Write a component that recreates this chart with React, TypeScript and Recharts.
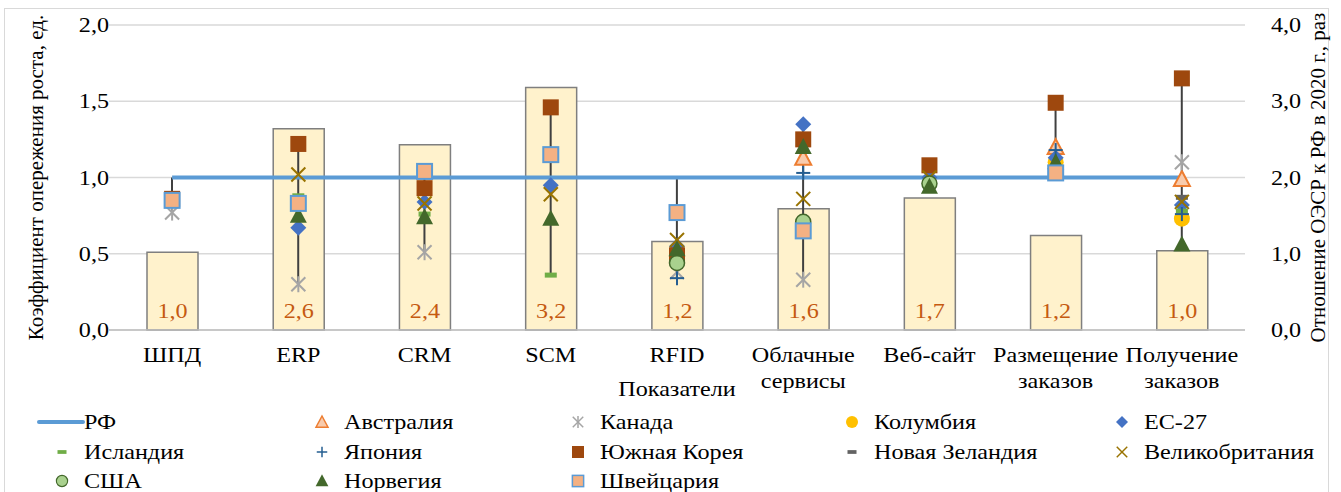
import React from "react";
import {
  Bar,
  CartesianGrid,
  ComposedChart,
  Label,
  LabelList,
  Line,
  XAxis,
  YAxis,
} from "recharts";

const categories = [
  "ШПД",
  "ERP",
  "CRM",
  "SCM",
  "RFID",
  "Облачные сервисы",
  "Веб-сайт",
  "Размещение заказов",
  "Получение заказов",
];

// отношение ОЭСР к РФ (правая ось)
const oecdToRf = [1.02, 2.64, 2.43, 3.18, 1.16, 1.59, 1.73, 1.24, 1.04];

// коэффициенты опережения (левая ось)
const rf = [1, 1, 1, 1, 1, 1, 1, 1, 1];
const australia = [null, null, null, null, null, 1.13, null, 1.2, 0.99];
const canada = [0.77, 0.3, 0.51, null, 0.38, 0.33, null, null, 1.1];
const colombia = [null, null, null, null, null, null, null, 1.1, 0.73];
const eu27 = [null, 0.67, 0.84, 0.95, 0.55, 1.35, 1.0, 1.13, 0.82];
const iceland = [null, 0.88, 0.76, 0.36, null, null, null, null, 0.78];
const japan = [null, null, null, null, 0.34, 1.03, null, 1.18, 0.76];
const southKorea = [0.86, 1.22, 0.93, 1.46, 0.49, 1.25, 1.08, 1.49, 1.65];
const newZealand = [null, null, null, null, null, null, null, null, 0.87];
const uk = [null, 1.02, 0.83, 0.89, 0.59, 0.86, 1.0, null, 0.84];
const usa = [null, null, null, null, 0.44, 0.71, 0.96, null, null];
const norway = [null, 0.75, 0.74, 0.73, 0.53, 1.2, 0.94, 1.1, 0.56];
const switzerland = [0.85, 0.83, 1.04, 1.15, 0.77, 0.65, null, 1.03, null];

type Shape =
  | "triOutline"
  | "star"
  | "dot"
  | "diamond"
  | "dash"
  | "plus"
  | "square"
  | "cross"
  | "circle"
  | "triangle"
  | "squareOutline";

const series: {
  key: string;
  name: string;
  values: (number | null)[];
  shape: Shape;
  color: string;
}[] = [
  { key: "au", name: "Австралия", values: australia, shape: "triOutline", color: "#ed7d31" },
  { key: "ca", name: "Канада", values: canada, shape: "star", color: "#a5a5a5" },
  { key: "co", name: "Колумбия", values: colombia, shape: "dot", color: "#ffc000" },
  { key: "eu", name: "ЕС-27", values: eu27, shape: "diamond", color: "#4472c4" },
  { key: "is", name: "Исландия", values: iceland, shape: "dash", color: "#70ad47" },
  { key: "jp", name: "Япония", values: japan, shape: "plus", color: "#255e91" },
  { key: "kr", name: "Южная Корея", values: southKorea, shape: "square", color: "#9e480e" },
  { key: "nz", name: "Новая Зеландия", values: newZealand, shape: "dash", color: "#636363" },
  { key: "uk", name: "Великобритания", values: uk, shape: "cross", color: "#997300" },
  { key: "us", name: "США", values: usa, shape: "circle", color: "#43682b" },
  { key: "no", name: "Норвегия", values: norway, shape: "triangle", color: "#43682b" },
  { key: "ch", name: "Швейцария", values: switzerland, shape: "squareOutline", color: "#5b9bd5" },
];

const chartData = categories.map((name, i) => {
  const row: Record<string, any> = { name, ratio: oecdToRf[i], rf: rf[i] };
  const vals: number[] = [rf[i]];
  series.forEach((s) => {
    row[s.key] = s.values[i];
    if (s.values[i] != null) vals.push(s.values[i] as number);
  });
  row.hl = [Math.min(...vals), Math.max(...vals)];
  return row;
});

const FONT = "'Liberation Serif', 'Times New Roman', serif";
const FS = 21;
const SX = 1.15; // текст в исходнике немного растянут по горизонтали
const fmt = (v: number) => v.toFixed(1).replace(".", ",");

// горизонтально растянутый текст вокруг точки привязки
function WideText({
  x,
  y,
  anchor,
  fill = "#000",
  children,
}: {
  x: number;
  y: number;
  anchor: "start" | "middle" | "end";
  fill?: string;
  children: React.ReactNode;
}) {
  return (
    <g transform={`translate(${x} ${y}) scale(${SX} 1)`}>
      <text x={0} y={0} textAnchor={anchor} fontSize={FS} fontFamily={FONT} fill={fill}>
        {children}
      </text>
    </g>
  );
}

function Marker({ shape, color, cx, cy }: { shape: Shape; color: string; cx: number; cy: number }) {
  switch (shape) {
    case "square":
      return <rect x={cx - 8} y={cy - 8} width={16} height={16} fill={color} />;
    case "squareOutline":
      return (
        <rect x={cx - 7.5} y={cy - 7.5} width={15} height={15} fill="#f4b183" stroke={color} strokeWidth={2} />
      );
    case "triOutline":
      return (
        <polygon
          points={`${cx},${cy - 8} ${cx + 8},${cy + 7} ${cx - 8},${cy + 7}`}
          fill="#f8cbad"
          stroke={color}
          strokeWidth={2}
        />
      );
    case "triangle":
      return <polygon points={`${cx},${cy - 9} ${cx + 8.5},${cy + 7} ${cx - 8.5},${cy + 7}`} fill={color} />;
    case "diamond":
      return <polygon points={`${cx},${cy - 8} ${cx + 8},${cy} ${cx},${cy + 8} ${cx - 8},${cy}`} fill={color} />;
    case "dot":
      return <circle cx={cx} cy={cy} r={8} fill={color} />;
    case "circle":
      return <circle cx={cx} cy={cy} r={7.5} fill="#a9d18e" stroke={color} strokeWidth={1.5} />;
    case "dash":
      return <rect x={cx - 6} y={cy - 2.5} width={12} height={5} fill={color} />;
    case "plus":
      return (
        <g stroke={color} strokeWidth={2}>
          <line x1={cx - 7} y1={cy} x2={cx + 7} y2={cy} />
          <line x1={cx} y1={cy - 7} x2={cx} y2={cy + 7} />
        </g>
      );
    case "cross":
      return (
        <g stroke={color} strokeWidth={2}>
          <line x1={cx - 7} y1={cy - 7} x2={cx + 7} y2={cy + 7} />
          <line x1={cx - 7} y1={cy + 7} x2={cx + 7} y2={cy - 7} />
        </g>
      );
    case "star":
      return (
        <g stroke={color} strokeWidth={2}>
          <line x1={cx - 7} y1={cy - 7} x2={cx + 7} y2={cy + 7} />
          <line x1={cx - 7} y1={cy + 7} x2={cx + 7} y2={cy - 7} />
          <line x1={cx} y1={cy - 8} x2={cx} y2={cy + 8} />
        </g>
      );
  }
  return null;
}

function CategoryTick(props: any) {
  const { x, y, payload } = props;
  const value: string = payload.value;
  const lines = value.includes(" ") ? value.split(" ") : [value];
  return (
    <g>
      {lines.map((l, i) => (
        <WideText key={i} x={x} y={y + 24 + i * 26} anchor="middle">
          {l}
        </WideText>
      ))}
    </g>
  );
}

function LeftTick(props: any) {
  const { x, y, payload } = props;
  return (
    <WideText x={x + 8} y={y + 7} anchor="end">
      {fmt(payload.value)}
    </WideText>
  );
}

function RightTick(props: any) {
  const { x, y, payload } = props;
  return (
    <WideText x={x + 18} y={y + 7} anchor="start">
      {fmt(payload.value)}
    </WideText>
  );
}

function BarValue(props: any) {
  const { x, y, width, height, value } = props;
  return (
    <WideText x={x + width / 2} y={y + height - 12} anchor="middle" fill="#c55a11">
      {fmt(Number(value))}
    </WideText>
  );
}

const legendRows = [
  ["rf", "au", "ca", "co", "eu"],
  ["is", "jp", "kr", "nz", "uk"],
  ["us", "no", "ch"],
];
const legendCols = [62, 322, 578, 852, 1122];
const legendTop = [422, 452, 481];

function LegendBlock() {
  return (
    <>
      {legendRows.map((row, r) =>
        row.map((k, c) => {
          const s = series.find((x) => x.key === k);
          const name = s ? s.name : "РФ";
          const cx = legendCols[c];
          const cy = legendTop[r];
          return (
            <div key={k}>
              <svg
                width={50}
                height={20}
                style={{ position: "absolute", left: cx - 25, top: cy - 10 }}
              >
                {s ? (
                  <g transform="translate(25,10) scale(0.75) translate(-25,-10)">
                    <Marker shape={s.shape} color={s.color} cx={25} cy={10} />
                  </g>
                ) : (
                  <line x1={2} y1={10} x2={46} y2={10} stroke="#5b9bd5" strokeWidth={4} strokeLinecap="round" />
                )}
              </svg>
              <span
                style={{
                  position: "absolute",
                  left: cx + 22,
                  top: cy - 13,
                  fontFamily: FONT,
                  fontSize: FS,
                  lineHeight: "26px",
                  color: "#000",
                  whiteSpace: "nowrap",
                  transform: `scaleX(${SX})`,
                  transformOrigin: "left center",
                }}
              >
                {name}
              </span>
            </div>
          );
        })
      )}
    </>
  );
}

export default function App() {
  return (
    <div
      style={{
        position: "absolute",
        left: 0,
        top: 0,
        width: 1341,
        height: 492,
        overflow: "hidden",
        background: "#fff",
      }}
    >
      <div
        style={{
          position: "absolute",
          left: 4,
          top: 8,
          width: 1323,
          height: 520,
          border: "1px solid #d9d9d9",
        }}
      />
      <div style={{ position: "absolute", left: 0, top: 0 }}>
        <ComposedChart
          width={1341}
          height={410}
          data={chartData}
          margin={{ top: 25, right: 11, left: 0, bottom: 0 }}
          style={{ fontFamily: FONT }}
        >
          <CartesianGrid vertical={false} stroke="#d9d9d9" strokeWidth={1.5} yAxisId="left" xAxisId="a" />
          <XAxis
            xAxisId="a"
            dataKey="name"
            height={80}
            interval={0}
            tickLine={false}
            axisLine={{ stroke: "#bfbfbf", strokeWidth: 1.5 }}
            tick={<CategoryTick />}
          >
            <Label
              content={(p: any) => {
                const vb = p.viewBox;
                return (
                  <WideText x={vb.x + vb.width / 2} y={vb.y + vb.height - 14} anchor="middle">
                    Показатели
                  </WideText>
                );
              }}
            />
          </XAxis>
          <XAxis xAxisId="b" dataKey="name" hide />
          <YAxis
            yAxisId="left"
            width={109}
            domain={[0, 2]}
            ticks={[0, 0.5, 1, 1.5, 2]}
            tickLine={false}
            axisLine={false}
            tick={<LeftTick />}
          >
            <Label
              value="Коэффициент опережения роста, ед."
              angle={-90}
              position="insideLeft"
              offset={36}
              style={{ textAnchor: "middle" }}
              fontSize={FS}
              fill="#000"
              fontFamily={FONT}
            />
          </YAxis>
          <YAxis
            yAxisId="right"
            orientation="right"
            width={85}
            domain={[0, 4]}
            ticks={[0, 1, 2, 3, 4]}
            tickLine={false}
            axisLine={false}
            tick={<RightTick />}
          >
            <Label
              value="Отношение ОЭСР к РФ в 2020 г., раз"
              angle={-90}
              position="insideRight"
              offset={12}
              style={{ textAnchor: "middle" }}
              fontSize={FS}
              fill="#000"
              fontFamily={FONT}
            />
          </YAxis>
          <Bar
            xAxisId="a"
            yAxisId="right"
            dataKey="ratio"
            barSize={51}
            fill="#fff2cc"
            stroke="#7f7f7f"
            strokeWidth={1.5}
            isAnimationActive={false}
          >
            <LabelList dataKey="ratio" content={<BarValue />} />
          </Bar>
          <Bar
            xAxisId="b"
            yAxisId="left"
            dataKey="hl"
            barSize={2}
            fill="#404040"
            isAnimationActive={false}
          />
          <Line
            xAxisId="a"
            yAxisId="left"
            dataKey="rf"
            stroke="#5b9bd5"
            strokeWidth={4}
            dot={false}
            activeDot={false}
            isAnimationActive={false}
          />
          {series.map((s) => (
            <Line
              key={s.key}
              xAxisId="a"
              yAxisId="left"
              dataKey={s.key}
              stroke="none"
              activeDot={false}
              isAnimationActive={false}
              dot={(p: any) => {
                if (p.value == null || p.cy == null) return <g key={`${s.key}-${p.index}`} />;
                return (
                  <g key={`${s.key}-${p.index}`}>
                    <Marker shape={s.shape} color={s.color} cx={p.cx} cy={p.cy} />
                  </g>
                );
              }}
            />
          ))}
        </ComposedChart>
      </div>
      <LegendBlock />
    </div>
  );
}
